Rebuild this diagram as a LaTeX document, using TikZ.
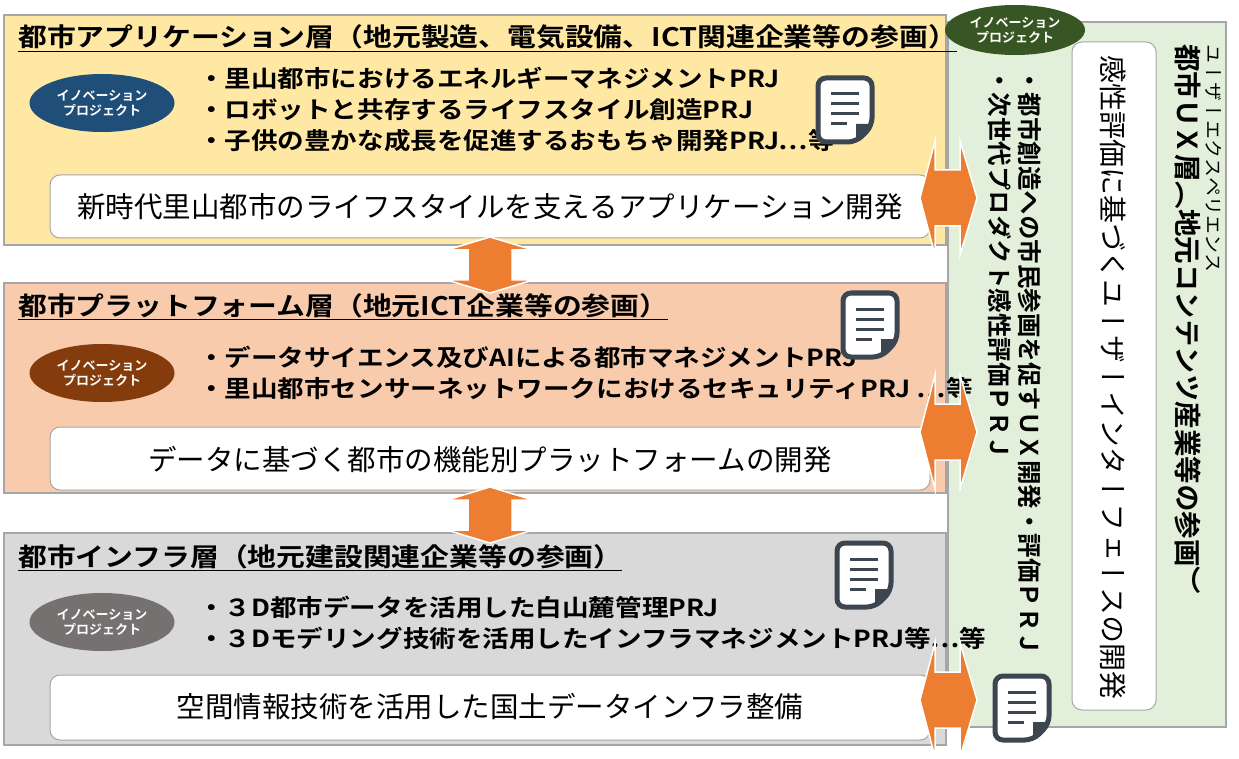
\documentclass[tikz,border=0pt]{standalone}
\usepackage{fontspec}
\setmainfont{Noto Sans CJK JP}
\newfontfamily\jpb{Noto Sans CJK JP Bold}
\newfontfamily\jpbw[FakeStretch=1.13]{Noto Sans CJK JP Bold}
\newfontfamily\vfont[Vertical=RotatedGlyphs]{Noto Sans CJK JP}
\newfontfamily\vfontb[Vertical=RotatedGlyphs]{Noto Sans CJK JP Bold}
\usetikzlibrary{shapes.geometric}
\definecolor{appc}{HTML}{FFE8A3}
\definecolor{platc}{HTML}{F8CBAD}
\definecolor{infc}{HTML}{D9D9D9}
\definecolor{uxc}{HTML}{E2EFDA}
\definecolor{bord}{HTML}{A6A6A6}
\definecolor{orng}{HTML}{ED7D31}
\definecolor{ebl}{HTML}{1F4E79}
\definecolor{ebr}{HTML}{843C0C}
\definecolor{egr}{HTML}{767171}
\definecolor{egn}{HTML}{375623}
\definecolor{iconc}{HTML}{3B4650}
\newcommand\docicon[2]{%
  \draw[line width=5pt, line join=round, rounded corners=8pt, draw=iconc, fill=white]
    ({#1-27},{#2-32}) -- ({#1+27},{#2-32}) -- ({#1+27},{#2+16}) -- ({#1+11},{#2+32}) -- ({#1-27},{#2+32}) -- cycle;
  \fill[iconc] ({#1+27},{#2+14}) -- ({#1+11},{#2+14}) -- ({#1+11},{#2+32}) -- cycle;
  \foreach \dy in {-16,-6,4}{\draw[line width=3pt, iconc] ({#1-14},{#2+\dy}) -- ({#1+14},{#2+\dy});}
  \draw[line width=3pt, iconc] ({#1-14},{#2+14}) -- ({#1+2},{#2+14});}
\newcommand\hdarrow[2]{% center x, center y
  \fill[orng, draw=white, line width=1.5pt] ({#1-29},{#2}) -- ({#1-14},{#2-57}) -- ({#1-14},{#2-28}) -- ({#1+11},{#2-28}) -- ({#1+11},{#2-57}) -- ({#1+28},{#2}) -- ({#1+11},{#2+57}) -- ({#1+11},{#2+28}) -- ({#1-14},{#2+28}) -- ({#1-14},{#2+57}) -- cycle;}
\newcommand\vdarrow[2]{%
  \fill[orng, draw=white, line width=1.5pt] ({#1},{#2-28}) -- ({#1+43},{#2-15}) -- ({#1+22},{#2-15}) -- ({#1+22},{#2+15}) -- ({#1+43},{#2+15}) -- ({#1},{#2+28}) -- ({#1-43},{#2+15}) -- ({#1-22},{#2+15}) -- ({#1-22},{#2-15}) -- ({#1-43},{#2-15}) -- cycle;}
\begin{document}
\begin{tikzpicture}[x=1pt,y=-1pt,
  layer/.style={draw=bord, line width=1.5pt},
  wbox/.style={draw=bord, fill=white, rounded corners=10pt, line width=1pt},
  innov/.style={ellipse, minimum width=145pt, minimum height=58pt, inner sep=0pt, text=white, font=\jpb\fontsize{13}{15}\selectfont, align=center},
  title/.style={anchor=west, font=\jpbw\fontsize{25.5}{28}\selectfont, inner sep=0pt},
  bul/.style={anchor=west, font=\jpbw\fontsize{23.5}{31}\selectfont, inner sep=0pt, align=left},
  wtext/.style={font=\fontsize{28.5}{30}\selectfont, inner sep=0pt}]
\useasboundingbox (0,0) rectangle (1239,759);
% layers
\path[layer, fill=appc] (4,15) rectangle (946,245);
\path[layer, fill=platc] (4,283) rectangle (946,493);
\path[layer, fill=infc] (4,533) rectangle (946,745);
\path[layer, fill=uxc] (948,22) rectangle (1226,727);
\path[wbox] (1072,42) rectangle (1156,710);
\path[wbox] (50,175) rectangle (930,238);
\path[wbox] (50,427) rectangle (930,490);
\path[wbox] (50,675) rectangle (930,740);
% titles
\node[title] (t1) at (18,38) {\underline{都市アプリケーション層（地元製造、電気設備、ICT関連企業等の参画）}};
\node[title] (t2) at (18,307) {\underline{都市プラットフォーム層（地元ICT企業等の参画）}};
\node[title] (t3) at (18,558) {\underline{都市インフラ層（地元建設関連企業等の参画）}};
% ellipses
\node[innov, fill=ebl] (e1) at (102,103) {イノベーション\\プロジェクト};
\node[innov, fill=ebr] (e2) at (102,373) {イノベーション\\プロジェクト};
\node[innov, fill=egr] (e3) at (102,622) {イノベーション\\プロジェクト};
\node[innov, fill=egn, minimum width=140pt, minimum height=50pt] (e4) at (1015,30) {イノベーション\\プロジェクト};
% bullets
\node[bul] (b1) at (198,109) {・里山都市におけるエネルギーマネジメントPRJ\\・ロボットと共存するライフスタイル創造PRJ\\・子供の豊かな成長を促進するおもちゃ開発PRJ…等};
\node[bul] (b2) at (198,373) {・データサイエンス及びAIによる都市マネジメントPRJ\\・里山都市センサーネットワークにおけるセキュリティPRJ …等};
\node[bul] (b3) at (198,623) {・３D都市データを活用した白山麓管理PRJ\\・３Dモデリング技術を活用したインフラマネジメントPRJ等…等};
% white box texts
\node[wtext] (w1) at (490,207) {新時代里山都市のライフスタイルを支えるアプリケーション開発};
\node[wtext] (w2) at (490,460) {データに基づく都市の機能別プラットフォームの開発};
\node[wtext] (w3) at (490,707) {空間情報技術を活用した国土データインフラ整備};
% vertical texts
\node[rotate=-90, anchor=west, inner sep=0pt, font=\vfont\fontsize{19}{20}\selectfont] (v1) at (1214,44) {ユーザーエクスペリエンス};
\node[rotate=-90, anchor=west, inner sep=0pt, font=\vfontb\fontsize{27.5}{28}\selectfont] (v2) at (1188,44) {都市ＵＸ層（地元コンテンツ産業等の参画）};
\node[rotate=-90, anchor=west, inner sep=0pt, font=\vfont\fontsize{28}{28}\selectfont] (v3) at (1113,55) {感性評価に基づくユーザーインターフェースの開発};
\node[rotate=-90, anchor=west, inner sep=0pt, font=\vfontb\fontsize{24.5}{24}\selectfont] (v4) at (1030,68) {・都市創造への市民参画を促すＵＸ開発・評価ＰＲＪ};
\node[rotate=-90, anchor=west, inner sep=0pt, font=\vfontb\fontsize{24.5}{24}\selectfont] (v5) at (1000,68) {・次世代プロダクト感性評価ＰＲＪ};
% icons
\docicon{845}{110}
\docicon{870}{325}
\docicon{864}{575}
\docicon{1022}{708}
% arrows
\vdarrow{490}{265}
\vdarrow{490}{515}
\hdarrow{949}{198}
\hdarrow{949}{432}
\hdarrow{949}{700}
\end{tikzpicture}
\end{document}
